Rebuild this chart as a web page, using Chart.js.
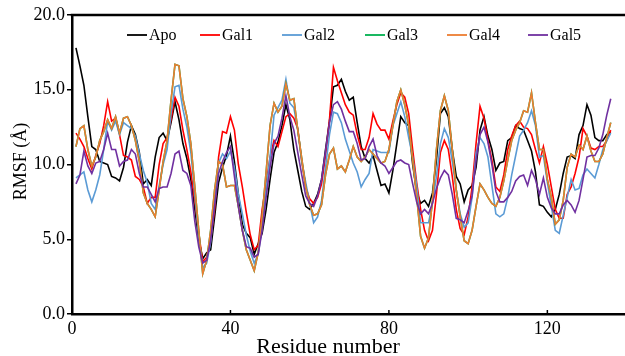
<!DOCTYPE html>
<html><head><meta charset="utf-8">
<script src="https://cdn.jsdelivr.net/npm/chart.js@4"></script>
<style>html,body{margin:0;padding:0;background:#fff;overflow:hidden}</style>
</head><body>
<canvas id="c" width="625" height="356" style="display:block;width:625px;height:356px"></canvas>
<script>
// ---- data (RMSF in Å per residue, residues 1..136) ----
const seriesNames = ['Apo', 'Gal1', 'Gal2', 'Gal3', 'Gal4', 'Gal5'];
const apo = [17.8,16.6,15.3,13.2,11.2,11.0,10.2,10.1,10.0,9.2, 9.1,8.9,9.8,11.5,12.6,12.0,10.8,8.7,9.0,8.6,
  10.5,11.8,12.1,11.6,12.8,14.2,13.0,11.4,10.4,9.0, 7.0,5.0,3.7,4.1,4.3,6.5,8.8,9.8,10.6,11.9,
  10.2,8.0,6.0,5.4,5.1,4.0,4.7,5.4,7.0,9.0, 10.8,11.5,12.6,14.0,13.0,11.0,9.6,8.2,7.2,7.0,
  7.4,8.0,9.0,11.0,12.9,15.2,15.3,15.7,14.9,14.3, 14.5,12.8,11.2,10.4,10.1,10.6,9.6,8.6,8.7,8.1,
  9.6,11.4,13.2,12.8,12.6,10.0,8.2,7.4,7.6,7.2, 8.1,10.3,13.4,13.8,13.2,11.0,9.2,8.7,7.5,8.3,
  8.6,9.8,12.3,13.2,11.9,11.0,9.6,10.1,10.2,11.6, 11.8,12.6,12.4,12.3,11.6,10.9,9.5,7.3,7.2,6.8,
  6.5,7.0,8.0,9.4,10.5,10.6,10.4,12.0,12.6,14.0, 13.3,11.8,11.6,11.6,12.0,12.2];
const gal1 = [12.1,11.7,11.2,10.4,9.7,10.6,11.4,12.6,14.2,12.9, 13.1,12.0,10.6,10.5,10.3,9.2,9.0,8.5,7.4,7.8,
  7.8,10.0,11.4,11.8,13.0,14.5,13.9,12.3,11.0,9.5, 7.6,5.4,3.5,3.8,5.0,7.0,10.5,12.2,12.1,13.2,
  12.3,10.0,8.5,6.8,5.3,4.3,4.6,7.0,8.7,10.5, 11.6,11.2,12.2,13.2,13.4,13.1,12.4,10.2,8.5,7.7,
  7.4,7.8,8.7,10.6,13.0,16.5,15.6,14.8,14.0,13.5, 13.3,12.0,11.0,11.0,11.8,13.4,12.7,12.3,12.3,11.7,
  12.9,14.0,14.8,14.5,13.4,11.0,8.8,7.0,5.6,4.9, 5.6,8.0,10.8,11.6,11.0,9.2,7.0,5.7,5.3,6.5,
  8.5,11.4,13.9,13.1,11.6,10.3,8.5,8.2,9.3,11.0, 11.9,12.6,12.9,12.5,12.4,12.0,11.0,10.1,11.2,10.0,
  8.5,7.0,6.4,6.4,8.0,8.5,9.4,10.5,12.4,11.9, 11.1,11.0,11.2,11.2,11.6,12.3];
const gal2 = [9.1,9.3,9.5,8.3,7.5,8.3,9.3,11.0,12.9,12.3, 12.9,12.0,12.8,12.6,12.4,11.9,10.7,9.6,8.8,7.4,
  7.0,8.6,10.0,11.0,13.4,15.2,15.3,13.7,12.5,10.8, 8.0,5.2,3.1,3.4,4.8,7.6,10.1,10.7,10.4,10.9,
  9.8,8.0,6.7,5.3,4.2,3.4,4.0,5.8,8.3,10.5, 13.3,13.8,14.3,15.7,14.1,13.8,12.3,10.2,8.8,7.4,
  6.1,6.5,7.6,9.8,12.0,13.5,13.4,12.8,11.7,10.9, 10.1,9.5,8.5,9.0,9.4,11.0,10.9,10.8,10.8,10.8,
  12.6,13.4,14.2,13.2,11.8,10.5,8.6,6.1,6.1,6.1, 7.4,9.2,11.4,12.4,11.8,10.2,8.3,6.7,5.8,6.1,
  7.8,10.8,11.8,11.4,10.5,8.6,6.7,6.5,6.7,7.8, 9.3,10.6,11.9,12.3,12.8,13.6,12.6,10.5,10.6,8.8,
  7.2,5.6,5.4,6.6,7.8,9.0,8.3,8.4,9.3,9.7, 9.4,9.1,10.0,11.0,11.6,12.1];
// Gal3 is not visible in the figure: it lies under the Gal4 trace
const gal3 = [11.2,12.4,12.6,11.0,9.9,10.5,11.6,12.2,13.0,12.4, 13.2,12.1,13.1,13.2,12.6,11.6,10.2,8.1,7.4,7.0,
  6.5,8.3,10.2,11.6,14.3,16.7,16.6,14.4,13.2,11.4, 8.5,5.6,2.7,3.6,5.6,8.3,10.2,10.0,8.5,8.6,
  8.6,7.2,5.6,4.3,3.6,2.9,4.1,6.5,9.5,12.6, 14.1,13.5,13.9,15.4,14.3,14.4,12.3,10.4,8.5,7.3,
  6.6,6.7,7.3,9.3,10.7,11.1,9.7,9.9,9.5,10.3, 11.2,10.5,10.2,10.5,11.0,10.7,10.4,10.1,10.2,11.0,
  12.6,14.2,15.0,14.0,12.6,10.3,7.9,5.2,4.4,5.1, 7.6,11.0,13.6,14.6,13.6,11.0,8.3,6.5,4.9,4.7,
  5.6,7.2,8.7,8.3,7.8,7.4,7.2,7.8,8.9,10.3, 11.6,12.3,12.8,13.6,13.5,14.8,12.8,11.0,11.0,9.0,
  7.8,6.0,6.3,7.6,9.8,10.7,10.5,11.3,11.0,11.9, 10.9,10.2,10.2,10.7,11.8,12.8];
const gal4 = [11.2,12.4,12.6,11.0,9.9,10.5,11.6,12.2,13.0,12.4, 13.2,12.1,13.1,13.2,12.6,11.6,10.2,8.1,7.4,7.0,
  6.5,8.3,10.2,11.6,14.3,16.7,16.6,14.4,13.2,11.4, 8.5,5.6,2.7,3.6,5.6,8.3,10.2,10.0,8.5,8.6,
  8.6,7.2,5.6,4.3,3.6,2.9,4.1,6.5,9.5,12.6, 14.1,13.5,13.9,15.4,14.3,14.4,12.3,10.4,8.5,7.3,
  6.6,6.7,7.3,9.3,10.7,11.1,9.7,9.9,9.5,10.3, 11.2,10.5,10.2,10.5,11.0,10.7,10.4,10.1,10.2,11.0,
  12.6,14.2,15.0,14.0,12.6,10.3,7.9,5.2,4.4,5.1, 7.6,11.0,13.6,14.6,13.6,11.0,8.3,6.5,4.9,4.7,
  5.6,7.2,8.7,8.3,7.8,7.4,7.2,7.8,8.9,10.3, 11.6,12.3,12.8,13.6,13.5,14.8,12.8,11.0,11.0,9.0,
  7.8,6.0,6.3,7.6,9.8,10.7,10.5,11.3,11.0,11.9, 10.9,10.2,10.2,10.7,11.8,12.8];
const gal5 = [8.7,9.3,10.9,9.9,9.4,10.1,10.2,11.0,12.1,11.0, 11.0,9.9,10.2,10.3,11.0,10.7,9.4,8.5,8.5,8.0,
  7.5,8.4,8.5,8.5,9.4,10.7,10.9,9.6,9.4,8.6, 6.2,4.5,3.4,3.6,4.9,7.2,9.4,10.2,10.8,11.2,
  9.2,7.2,5.6,4.5,4.4,3.8,4.0,5.6,7.8,9.8, 11.4,11.9,13.1,14.6,13.2,12.3,10.8,9.3,7.9,7.4,
  7.2,7.9,9.0,10.9,12.8,14.0,14.2,13.7,12.9,12.2, 12.2,11.4,10.3,10.4,11.2,11.7,10.6,10.1,9.9,9.4,
  9.8,10.2,10.3,10.1,10.0,8.7,7.5,6.7,7.0,6.7, 7.4,8.4,9.1,9.6,9.3,8.0,6.4,6.3,6.1,6.9,
  7.9,10.3,12.0,12.5,11.5,10.0,8.2,7.5,7.5,7.8, 8.2,8.9,9.2,9.3,8.6,9.6,9.0,8.0,9.1,7.8,
  7.1,6.7,6.7,7.3,7.6,7.3,6.8,7.6,9.0,10.5, 10.6,10.6,11.1,12.0,13.3,14.4];
const xTicks = [0, 40, 80, 120];
const yTicks = [0, 5, 10, 15, 20];
const xTitle = 'Residue number';
const yTitle = 'RMSF (Å)';
const colors = ['#000000', '#FF0000', '#5B9BD5', '#00B050', '#ED7D31', '#7030A0'];

// ---- chart ----
const FONT = '"Liberation Serif", "Times New Roman", serif';
Chart.defaults.font.family = FONT;
Chart.defaults.color = '#000';

const allSeries = [apo, gal1, gal2, gal3, gal4, gal5];
const residues = apo.map((_, i) => i + 1);
const datasets = allSeries.map((s, k) => ({
  label: seriesNames[k],
  data: s.map((v, i) => ({ x: residues[i], y: v })),
  borderColor: colors[k],
  backgroundColor: colors[k],
  borderWidth: 1.6,
  pointRadius: 0,
  tension: 0,
  fill: false,
  order: allSeries.length - k
}));

const legendX = [127, 200, 282, 365, 447, 528];
const decor = {
  id: 'decor',
  afterDraw(chart) {
    const { ctx, chartArea: a } = chart;
    const xs = chart.scales.x;
    ctx.save();
    ctx.strokeStyle = '#000';
    ctx.lineWidth = 2.5;
    ctx.beginPath(); ctx.moveTo(a.left - 1.25, a.top); ctx.lineTo(a.right, a.top); ctx.stroke();
    ctx.lineWidth = 1.5;
    xTicks.forEach(v => {
      const px = xs.getPixelForValue(v);
      ctx.beginPath(); ctx.moveTo(px, a.bottom); ctx.lineTo(px, a.bottom - 4); ctx.stroke();
    });
    // legend
    ctx.font = '16px ' + FONT;
    ctx.textAlign = 'left';
    ctx.textBaseline = 'middle';
    chart.data.datasets.forEach((d, k) => {
      const lx = legendX[k], ly = 35;
      ctx.strokeStyle = d.borderColor; ctx.lineWidth = 1.8;
      ctx.beginPath(); ctx.moveTo(lx, ly); ctx.lineTo(lx + 20, ly); ctx.stroke();
      ctx.fillStyle = '#000';
      ctx.fillText(d.label, lx + 22, ly + 1);
    });
    // axis titles
    ctx.fillStyle = '#000';
    ctx.font = '22px ' + FONT;
    ctx.textAlign = 'center';
    ctx.textBaseline = 'alphabetic';
    ctx.fillText(xTitle, 328, 353);
    ctx.translate(25.5, 161.5);
    ctx.rotate(-Math.PI / 2);
    ctx.font = '18px ' + FONT;
    ctx.fillText(yTitle, 0, 0);
    ctx.restore();
  }
};

new Chart(document.getElementById('c'), {
  type: 'line',
  data: { datasets },
  options: {
    responsive: false,
    animation: false,
    devicePixelRatio: 1,
    events: [],
    layout: { padding: { top: 15, right: 0, left: 0, bottom: 0 } },
    plugins: { legend: { display: false }, tooltip: { enabled: false } },
    scales: {
      x: {
        type: 'linear', min: 0, max: 139.6,
        afterFit: s => { s.height = 42; },
        afterBuildTicks: s => { s.ticks = xTicks.map(v => ({ value: v })); },
        grid: { display: false, drawTicks: false },
        border: { display: true, color: '#000', width: 2.5 },
        ticks: { font: { size: 18 }, padding: 4, maxRotation: 0, autoSkip: false, color: '#000' }
      },
      y: {
        min: 0, max: 20,
        afterFit: s => { s.width = 72; },
        afterBuildTicks: s => { s.ticks = yTicks.map(v => ({ value: v })); },
        grid: { drawOnChartArea: false, drawTicks: true, tickLength: 5, color: '#000', lineWidth: 1.5 },
        border: { display: true, color: '#000', width: 2.5 },
        ticks: { font: { size: 18 }, padding: 2, color: '#000', callback: v => Number(v).toFixed(1) }
      }
    }
  },
  plugins: [decor]
});
</script>
</body></html>
